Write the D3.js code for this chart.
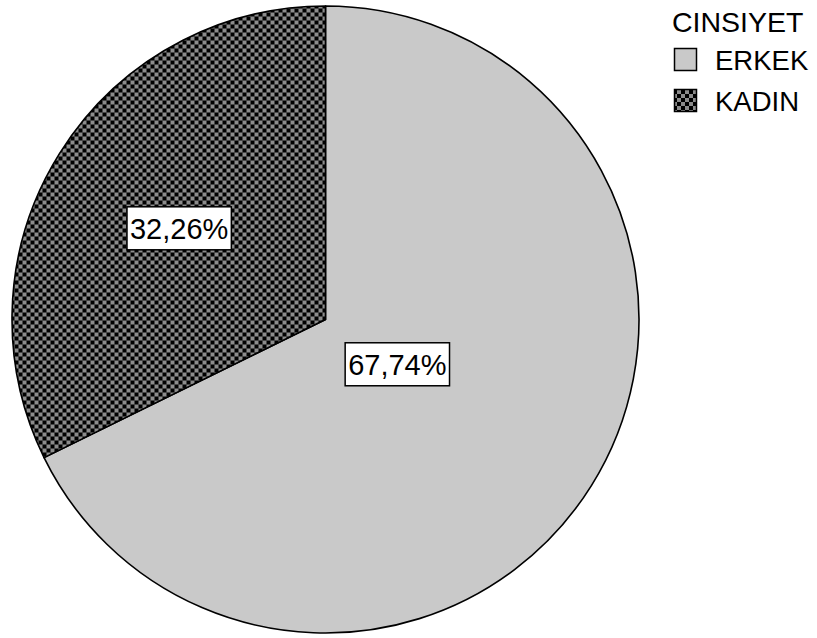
<!DOCTYPE html>
<html>
<head>
<meta charset="utf-8">
<script src="https://cdn.jsdelivr.net/npm/d3@7"></script>
<style>
  html, body { margin: 0; padding: 0; background: #fff; }
  svg { display: block; font-family: "Liberation Sans", Arial, sans-serif; }
</style>
</head>
<body>
<svg id="chart" width="817" height="638"></svg>
<script>
// Gender distribution (CINSIYET)
const legendTitle = "CINSIYET";
const categories = ["ERKEK", "KADIN"];
const percentages = [67.74, 32.26];
const valueLabels = ["67,74%", "32,26%"];

const width = 817, height = 638;
const cx = 325.5, cy = 319.5, radius = 313.5;

const svg = d3.select("#chart");
const defs = svg.append("defs");

// Checkerboard fill for the second category
const pat = defs.append("pattern")
  .attr("id", "checker")
  .attr("patternUnits", "userSpaceOnUse")
  .attr("width", 8).attr("height", 8)
  .attr("x", 1).attr("y", 1);
pat.append("rect").attr("width", 8).attr("height", 8).attr("fill", "#8c8c8c");
pat.append("rect").attr("width", 4).attr("height", 4).attr("fill", "#000");
pat.append("rect").attr("x", 4).attr("y", 4).attr("width", 4).attr("height", 4).attr("fill", "#000");

const fillScale = d3.scaleOrdinal()
  .domain(categories)
  .range(["#c9c9c9", "url(#checker)"]);

// Distance of each value label from the centre, as a share of the radius
const labelRadiusShare = d3.scaleOrdinal().domain(categories).range([0.27, 0.55]);

const pie = d3.pie().sort(null).value(d => d.value);
const data = categories.map((c, i) => ({ cat: c, value: percentages[i], label: valueLabels[i] }));
const arcs = pie(data);

const arc = d3.arc().innerRadius(0).outerRadius(radius);

const g = svg.append("g").attr("transform", `translate(${cx},${cy})`);

g.selectAll("path.slice")
  .data(arcs)
  .join("path")
  .attr("class", "slice")
  .attr("d", arc)
  .attr("fill", d => fillScale(d.data.cat))
  .attr("stroke", "#000")
  .attr("stroke-width", 1.6)
  .attr("stroke-linejoin", "round");

// Value labels in white boxes
const labels = g.selectAll("g.vlabel")
  .data(arcs)
  .join("g")
  .attr("class", "vlabel")
  .attr("transform", d => {
    const r = radius * labelRadiusShare(d.data.cat);
    const a = (d.startAngle + d.endAngle) / 2;
    return `translate(${r * Math.sin(a)},${-r * Math.cos(a)})`;
  });

labels.each(function(d) {
  const sel = d3.select(this);
  const t = sel.append("text")
    .attr("text-anchor", "middle")
    .attr("dy", "0.37em")
    .attr("font-size", 29)
    .attr("fill", "#000")
    .text(d.data.label);
  const bb = t.node().getBBox();
  sel.insert("rect", "text")
    .attr("x", bb.x - 3)
    .attr("y", -21.5)
    .attr("width", bb.width + 6)
    .attr("height", 43)
    .attr("fill", "#fff")
    .attr("stroke", "#000")
    .attr("stroke-width", 1.5);
});

// Legend
const legend = svg.append("g").attr("transform", "translate(672,0)");
legend.append("text")
  .attr("x", 0).attr("y", 32)
  .attr("font-size", 28.5)
  .attr("fill", "#000")
  .text(legendTitle);

const items = legend.selectAll("g.item")
  .data(categories)
  .join("g")
  .attr("class", "item")
  .attr("transform", (d, i) => `translate(0,${48 + i * 41})`);

items.append("rect")
  .attr("x", 2.5).attr("y", 0.5)
  .attr("width", 22).attr("height", 22)
  .attr("fill", d => fillScale(d))
  .attr("stroke", "#000")
  .attr("stroke-width", 1.5);

items.append("text")
  .attr("x", 43).attr("y", 21.5)
  .attr("font-size", 27.5)
  .attr("fill", "#000")
  .text(d => d);
</script>
</body>
</html>
